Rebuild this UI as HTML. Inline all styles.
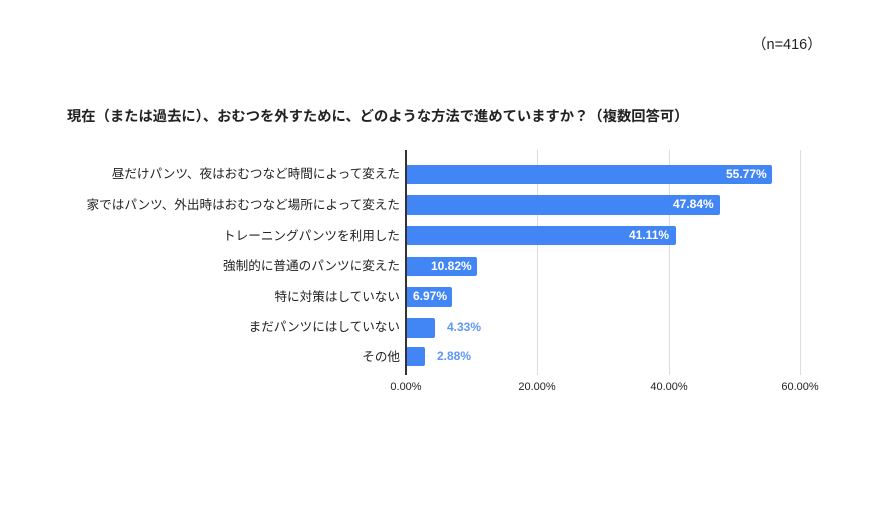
<!DOCTYPE html>
<html><head><meta charset="utf-8"><style>
body{margin:0;width:885px;height:517px;background:#fff;position:relative;overflow:hidden;font-family:"Liberation Sans","Noto Sans CJK JP",sans-serif;color:#222}
.a{position:absolute;white-space:nowrap}
.lab{position:absolute;right:485px;font-size:12.6px;color:#222;line-height:20px;white-space:nowrap}
.bar{position:absolute;left:406px;height:19.5px;background:#4285f4;border-radius:0 2px 2px 0}
.v{position:absolute;font-size:12px;font-weight:bold;line-height:19.5px}
.g{position:absolute;top:150px;height:225px;width:1px;background:#ddd}
.t{position:absolute;top:381px;font-size:11px;color:#222;width:60px;text-align:center}
</style></head><body>
<div class="a" style="left:752px;top:33px;font-size:14.5px">（n=416）</div>
<div class="a" style="left:67px;top:105px;font-size:14.3px;font-weight:bold">現在（または過去に）、おむつを外すために、どのような方法で進めていますか？（複数回答可）</div>
<div class="g" style="left:537px"></div><div class="g" style="left:669px"></div><div class="g" style="left:800px"></div>
<div class="lab" style="top:164px">昼だけパンツ、夜はおむつなど時間によって変えた</div>
<div class="lab" style="top:195px">家ではパンツ、外出時はおむつなど場所によって変えた</div>
<div class="lab" style="top:226px">トレーニングパンツを利用した</div>
<div class="lab" style="top:256px">強制的に普通のパンツに変えた</div>
<div class="lab" style="top:287px">特に対策はしていない</div>
<div class="lab" style="top:317px">まだパンツにはしていない</div>
<div class="lab" style="top:347px">その他</div>
<div class="bar" style="top:164.5px;width:366px"></div><div class="v" style="top:164.5px;left:726px;color:#fff">55.77%</div>
<div class="bar" style="top:195.2px;width:314px"></div><div class="v" style="top:195.2px;left:673px;color:#fff">47.84%</div>
<div class="bar" style="top:225.9px;width:270px"></div><div class="v" style="top:225.9px;left:629px;color:#fff">41.11%</div>
<div class="bar" style="top:256.6px;width:71px"></div><div class="v" style="top:256.6px;left:431px;color:#fff">10.82%</div>
<div class="bar" style="top:287.3px;width:46px"></div><div class="v" style="top:287.3px;left:413px;color:#fff">6.97%</div>
<div class="bar" style="top:318px;width:28.5px"></div><div class="v" style="top:318px;left:447px;color:#5e97f6">4.33%</div>
<div class="bar" style="top:346.7px;width:19px"></div><div class="v" style="top:346.7px;left:437px;color:#5e97f6">2.88%</div>
<div style="position:absolute;left:405px;top:150px;width:1.5px;height:225px;background:#333"></div>
<div class="t" style="left:376px">0.00%</div><div class="t" style="left:507px">20.00%</div><div class="t" style="left:639px">40.00%</div><div class="t" style="left:770px">60.00%</div>
</body></html>
